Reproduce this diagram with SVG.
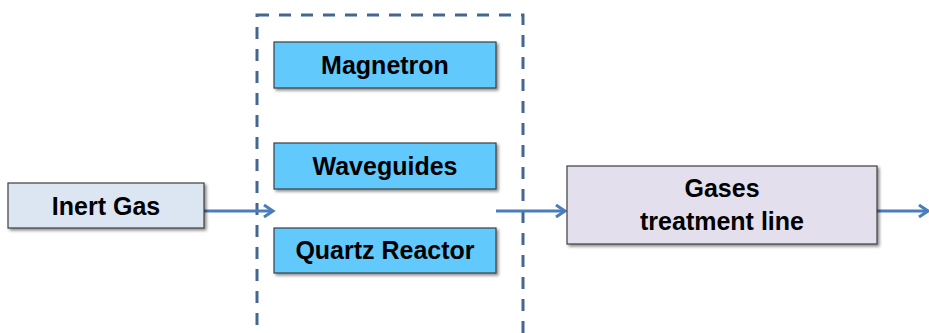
<svg xmlns="http://www.w3.org/2000/svg" width="929" height="333" viewBox="0 0 929 333">
<style>
.lbl{font-family:"Liberation Sans",Arial,sans-serif;font-weight:bold;font-size:25px;fill:#000;text-anchor:middle}
.box{stroke:#3f3f3f;stroke-width:1.2}
.conn{stroke:#4a7ebb;stroke-width:3;fill:none}
.dash{stroke:#44668f;stroke-width:3;fill:none;stroke-dasharray:12 10}
</style>
<defs>
<marker id="arr" markerWidth="14" markerHeight="14" refX="11" refY="7" orient="auto" markerUnits="userSpaceOnUse">
<polyline points="2,1 11,7 2,13" fill="none" stroke="#4a7ebb" stroke-width="3"/>
</marker>
<filter id="sh" x="-5%" y="-10%" width="115%" height="130%">
<feGaussianBlur in="SourceAlpha" stdDeviation="1.5"/>
<feOffset dx="2" dy="2" result="b"/>
<feComponentTransfer><feFuncA type="linear" slope="0.45"/></feComponentTransfer>
<feMerge><feMergeNode/><feMergeNode in="SourceGraphic"/></feMerge>
</filter>
</defs>
<rect width="929" height="333" fill="#fff"/>
<rect class="dash" x="257" y="15" width="266" height="340"/>
<g id="connectors">
<line class="conn" x1="204" y1="211" x2="273" y2="211" marker-end="url(#arr)"/>
<line class="conn" x1="496" y1="211" x2="565" y2="211" marker-end="url(#arr)"/>
<line class="conn" x1="877" y1="211" x2="928" y2="211" marker-end="url(#arr)"/>
</g>
<g id="inert-gas">
<rect class="box" x="8" y="183" width="196" height="45" fill="#dce6f2" filter="url(#sh)"/>
<text class="lbl" x="106" y="215">Inert Gas</text>
</g>
<g id="magnetron">
<rect class="box" x="274" y="42" width="222" height="46" fill="#62c9fd" filter="url(#sh)"/>
<text class="lbl" x="385" y="74">Magnetron</text>
</g>
<g id="waveguides">
<rect class="box" x="274" y="143" width="222" height="46" fill="#62c9fd" filter="url(#sh)"/>
<text class="lbl" x="385" y="175">Waveguides</text>
</g>
<g id="quartz-reactor">
<rect class="box" x="274" y="228" width="222" height="45" fill="#62c9fd" filter="url(#sh)"/>
<text class="lbl" x="385" y="259">Quartz Reactor</text>
</g>
<g id="gases-treatment">
<rect class="box" x="567" y="166" width="310" height="78" fill="#e4dfec" filter="url(#sh)"/>
<text class="lbl" x="722" y="197">Gases</text>
<text class="lbl" x="722" y="230">treatment line</text>
</g>
</svg>
